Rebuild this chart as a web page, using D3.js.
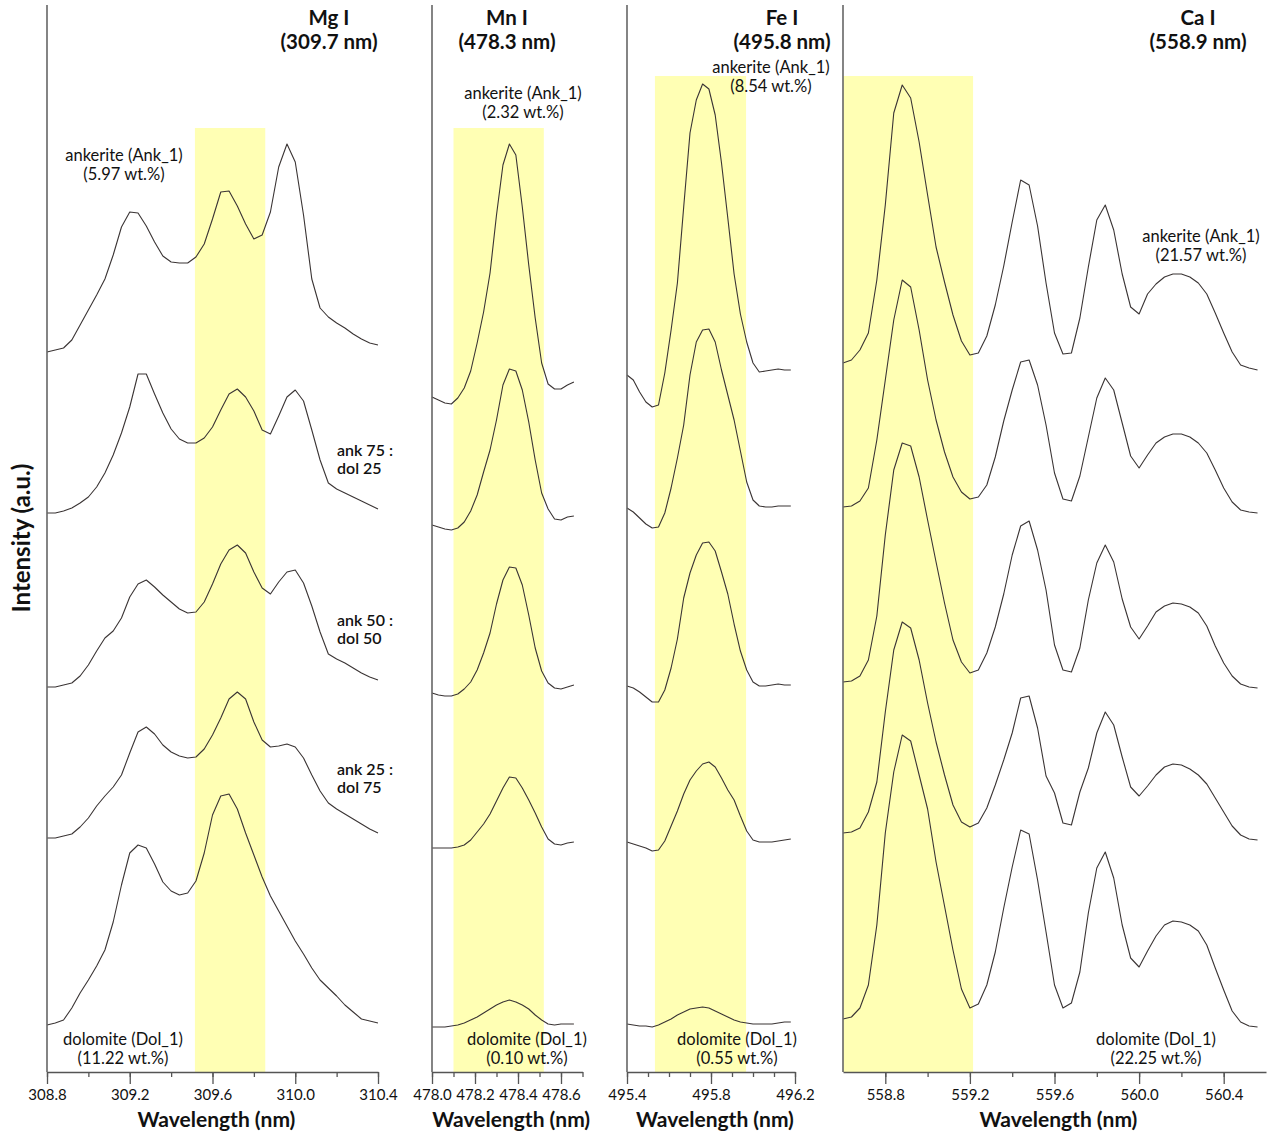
<!DOCTYPE html>
<html><head><meta charset="utf-8">
<script src="https://cdn.jsdelivr.net/npm/d3@7"></script>
<style>body{margin:0;background:#fff}svg{display:block}</style>
</head><body>
<svg id="chart" width="1270" height="1136"></svg>
<script>
// ---------------- DATA ----------------
const panelTitles = ["Mg I", "Mn I", "Fe I", "Ca I"];
const panelLines = ["(309.7 nm)", "(478.3 nm)", "(495.8 nm)", "(558.9 nm)"];
const seriesNames = ["ankerite (Ank_1)", "ank 75 : dol 25", "ank 50 : dol 50", "ank 25 : dol 75", "dolomite (Dol_1)"];
const ankContent = ["(5.97 wt.%)", "(2.32 wt.%)", "(8.54 wt.%)", "(21.57 wt.%)"];
const dolContent = ["(11.22 wt.%)", "(0.10 wt.%)", "(0.55 wt.%)", "(22.25 wt.%)"];
const mixLabels = [["ank 75 :", "dol 25"], ["ank 50 :", "dol 50"], ["ank 25 :", "dol 75"]];

// x domains (nm)
const xDomains = [[308.8, 310.4], [478.0, 478.7], [495.4, 496.2], [558.6, 560.6]];
const tickValuesAll = [
  [308.8, 309.0, 309.2, 309.4, 309.6, 309.8, 310.0, 310.2, 310.4],
  [478.0, 478.1, 478.2, 478.3, 478.4, 478.5, 478.6, 478.7],
  [495.4, 495.5, 495.6, 495.7, 495.8, 495.9, 496.0, 496.1, 496.2],
  [558.8, 559.0, 559.2, 559.4, 559.6, 559.8, 560.0, 560.2, 560.4]
];
const tickLabels = [
  ["308.8", "309.2", "309.6", "310.0", "310.4"],
  ["478.0", "478.2", "478.4", "478.6"],
  ["495.4", "495.8", "496.2"],
  ["558.8", "559.2", "559.6", "560.0", "560.4"]
];
// highlighted emission-line windows (nm) and band top (a.u.)
const bandStart = [309.515, 478.10, 495.533, 558.60];
const bandEnd = [309.855, 478.52, 495.967, 559.215];
const bandTop = [944, 944, 996, 996];

// Intensity domain (a.u., stacked spectra)
const intensityDomain = [0, 1067];

// ---- Mg I ----
const mgWavelength = [308.80,308.84,308.88,308.92,308.96,309.00,309.04,309.08,309.12,309.16,309.20,309.24,309.28,309.32,309.36,309.40,309.44,309.48,309.52,309.56,309.60,309.64,309.68,309.72,309.76,309.80,309.84,309.88,309.92,309.96,310.00,310.04,310.08,310.12,310.16,310.20,310.24,310.28,310.32,310.36,310.40];
const mgAnk = [720,722,724,732,747,762,777,793,817,845,860,859,846,830,816,810,809,809,815,828,853,880,881,866,848,833,837,860,905,928,910,857,793,764,755,749,744,738,733,729,727];
const mgMix75 = [559,559,561,564,569,575,585,599,617,639,665,698,698,678,659,643,633,629,629,634,645,662,678,683,675,661,642,638,656,675,682,671,642,612,589,583,579,575,571,567,563];
const mgMix50 = [385,385,387,389,396,407,421,434,441,454,475,488,492,485,477,470,463,459,460,470,488,508,522,527,519,500,484,478,490,500,502,489,466,440,418,413,409,404,399,395,392];
const mgMix25 = [234,234,236,238,245,254,266,276,285,297,319,340,345,338,327,320,316,314,315,323,337,354,373,380,373,350,332,325,326,328,325,314,297,281,269,263,258,253,248,243,239];
const mgDol = [47,49,52,64,79,92,106,122,150,187,219,227,224,208,190,181,177,179,191,219,257,276,278,263,239,217,195,176,161,146,131,118,104,92,84,76,67,60,53,51,49];

// ---- Mn I ----
const mnWavelength = [478.00,478.03,478.06,478.09,478.12,478.15,478.18,478.21,478.24,478.27,478.30,478.33,478.36,478.39,478.42,478.45,478.48,478.51,478.54,478.57,478.60,478.63,478.66];
const mnAnk = [675,672,669,668,674,684,701,729,760,799,857,907,928,917,865,807,754,709,688,683,683,687,690];
const mnMix75 = [547,545,543,542,544,550,561,577,600,622,652,687,703,701,682,650,612,579,563,553,552,555,556];
const mnMix50 = [379,377,376,376,378,383,390,402,419,439,468,492,505,504,487,457,424,401,389,384,383,385,387];
const mnMix25 = [224,224,224,224,225,227,232,240,248,258,271,284,295,294,284,272,259,245,233,228,227,229,230];
const mnDol = [45,45,45,46,47,49,52,55,59,63,67,70,72,70,67,63,57,52,48,47,48,48,48];

// ---- Fe I ----
const feWavelength = [495.40,495.43,495.46,495.49,495.52,495.55,495.58,495.61,495.64,495.67,495.70,495.73,495.76,495.79,495.82,495.85,495.88,495.91,495.94,495.97,496.00,496.03,496.06,496.09,496.12,496.15,496.18];
const feAnk = [697,692,680,670,665,667,699,742,789,865,939,972,988,983,957,909,854,798,758,730,709,700,701,702,703,702,702];
const feMix75 = [564,560,554,548,544,545,559,584,614,647,697,730,742,743,730,702,677,652,621,590,572,566,565,565,566,566,566];
const feMix50 = [386,384,380,375,370,370,382,404,433,474,499,517,529,530,521,500,478,448,421,402,390,386,386,387,388,387,387];
const feMix25 = [230,228,226,224,221,222,231,246,261,278,292,301,308,310,305,294,282,272,256,241,232,230,230,230,231,232,233];
const feDol = [48,47,46,46,45,47,50,53,57,60,63,64,65,64,61,58,55,52,50,49,48,48,48,48,49,50,50];

// ---- Ca I ----
const caWavelength = [558.60,558.64,558.68,558.72,558.76,558.80,558.84,558.88,558.92,558.96,559.00,559.04,559.08,559.12,559.16,559.20,559.24,559.28,559.32,559.36,559.40,559.44,559.48,559.52,559.56,559.60,559.64,559.68,559.72,559.76,559.80,559.84,559.88,559.92,559.96,560.00,560.04,560.08,560.12,560.16,560.20,560.24,560.28,560.32,560.36,560.40,560.44,560.48,560.52,560.56];
const caAnk = [709,712,722,739,792,867,959,987,974,930,877,825,790,757,731,717,719,736,767,806,850,892,887,846,789,739,718,719,754,805,852,867,842,798,765,758,778,788,795,798,798,795,789,778,759,739,720,707,704,702];
const caMix75 = [565,566,571,584,632,692,752,792,785,742,692,652,620,595,580,573,575,587,615,651,682,710,712,687,647,599,573,571,596,635,674,694,682,649,616,604,617,629,635,638,638,635,629,619,602,584,570,562,560,559];
const caMix50 = [390,391,396,412,456,537,602,629,626,595,552,510,469,432,410,399,402,419,445,478,517,546,551,522,482,427,402,400,424,472,509,527,510,473,445,433,446,460,466,469,468,465,459,446,426,409,396,388,385,384];
const caMix25 = [239,240,244,260,290,360,422,450,444,412,369,330,297,267,250,245,249,264,287,312,339,374,376,344,296,279,249,247,280,304,339,360,347,315,285,276,286,297,305,308,307,303,297,288,274,260,246,237,233,232];
const caDol = [53,55,64,87,147,239,300,337,331,297,263,210,166,122,83,64,68,87,120,164,205,242,238,192,140,87,64,69,100,159,204,220,194,147,114,105,121,136,147,151,150,147,141,127,104,82,61,50,46,45];

const wavelengths = [mgWavelength, mnWavelength, feWavelength, caWavelength];
const spectra = [
  [mgAnk, mgMix75, mgMix50, mgMix25, mgDol],
  [mnAnk, mnMix75, mnMix50, mnMix25, mnDol],
  [feAnk, feMix75, feMix50, feMix25, feDol],
  [caAnk, caMix75, caMix50, caMix25, caDol]
];

// ---------------- LAYOUT ----------------
const FONT = "Lato, 'Open Sans', sans-serif";
const axisY = 1072, topY = 5;
const panelRanges = [[47, 378], [432, 582.5], [627, 795], [843, 1266]];
const titleX = [329, 507, 782, 1198];
const ankLabelPos = [[124, 161], [523, 99], [771, 73], [1201, 242]];
const dolLabelPos = [[123, 1045], [527, 1045], [737, 1045], [1156, 1045]];
const mixLabelPos = [[337, 456], [337, 626], [337, 775]];

const svg = d3.select("#chart");
const y = d3.scaleLinear().domain(intensityDomain).range([axisY, topY]);

panelTitles.forEach((title, p) => {
  const x = d3.scaleLinear().domain(xDomains[p]).range(panelRanges[p]);
  const g = svg.append("g");

  // highlight band
  g.append("rect")
    .attr("x", x(bandStart[p]))
    .attr("width", x(bandEnd[p]) - x(bandStart[p]))
    .attr("y", y(bandTop[p]))
    .attr("height", y(0) - y(bandTop[p]))
    .attr("fill", "#ffffb4");

  // spectra
  const line = d3.line()
    .x((d, i) => x(wavelengths[p][i]))
    .y(d => y(d))
    .curve(d3.curveLinear);
  spectra[p].forEach((s, k) => {
    g.append("path")
      .datum(s)
      .attr("d", line)
      .attr("fill", "none")
      .attr("stroke", "#3a3434")
      .attr("stroke-width", 1.1)
      .attr("stroke-linejoin", "round");
  });

  // vertical (intensity) axis line
  g.append("line")
    .attr("x1", panelRanges[p][0]).attr("x2", panelRanges[p][0])
    .attr("y1", y(intensityDomain[1])).attr("y2", y(0))
    .attr("stroke", "#666").attr("stroke-width", 1.6);

  // x axis: minor ticks
  const minorAxis = d3.axisBottom(x)
    .tickValues(tickValuesAll[p])
    .tickSize(5).tickSizeOuter(0).tickFormat("");
  const ga = g.append("g").attr("transform", `translate(0,${axisY})`).call(minorAxis);
  ga.select(".domain").attr("stroke", "#555").attr("stroke-width", 1.4);
  ga.selectAll(".tick line").attr("stroke", "#555").attr("stroke-width", 1.3);

  // major ticks with labels
  const majorAxis = d3.axisBottom(x)
    .tickValues(tickLabels[p].map(Number))
    .tickSize(12).tickSizeOuter(0).tickPadding(5)
    .tickFormat((d, i) => tickLabels[p][i]);
  const gm = g.append("g").attr("transform", `translate(0,${axisY})`).call(majorAxis);
  gm.select(".domain").remove();
  gm.selectAll(".tick line").attr("stroke", "#555").attr("stroke-width", 1.3);
  gm.selectAll(".tick text")
    .attr("fill", "#111").style("font-family", FONT).style("font-size", "15px");

  // x axis title
  g.append("text")
    .attr("x", (panelRanges[p][0] + panelRanges[p][1]) / 2 + 4)
    .attr("y", 1127)
    .attr("text-anchor", "middle")
    .style("font-family", FONT).style("font-weight", "bold").style("font-size", "21px")
    .attr("fill", "#111")
    .text("Wavelength (nm)");

  // panel title
  const t = g.append("text").attr("text-anchor", "middle")
    .style("font-family", FONT).style("font-weight", "bold").style("font-size", "20.5px")
    .attr("fill", "#111");
  t.append("tspan").attr("x", titleX[p]).attr("y", 25).text(title);
  t.append("tspan").attr("x", titleX[p]).attr("y", 49).text(panelLines[p]);

  // ankerite label
  const a = g.append("text").attr("text-anchor", "middle")
    .style("font-family", FONT).style("font-size", "16.5px").attr("fill", "#111");
  a.append("tspan").attr("x", ankLabelPos[p][0]).attr("y", ankLabelPos[p][1]).text(seriesNames[0]);
  a.append("tspan").attr("x", ankLabelPos[p][0]).attr("y", ankLabelPos[p][1] + 19).text(ankContent[p]);

  // dolomite label
  const dl = g.append("text").attr("text-anchor", "middle")
    .style("font-family", FONT).style("font-size", "16.5px").attr("fill", "#111");
  dl.append("tspan").attr("x", dolLabelPos[p][0]).attr("y", dolLabelPos[p][1]).text(seriesNames[4]);
  dl.append("tspan").attr("x", dolLabelPos[p][0]).attr("y", dolLabelPos[p][1] + 19).text(dolContent[p]);
});

// mixture labels (Mg panel)
mixLabels.forEach((lab, i) => {
  const t = svg.append("text")
    .style("font-family", FONT).style("font-size", "16px").style("font-weight", "600")
    .attr("fill", "#111");
  t.append("tspan").attr("x", mixLabelPos[i][0]).attr("y", mixLabelPos[i][1]).text(lab[0]);
  t.append("tspan").attr("x", mixLabelPos[i][0]).attr("y", mixLabelPos[i][1] + 18).text(lab[1]);
});

// y axis title
svg.append("text")
  .attr("transform", "translate(30,538) rotate(-90)")
  .attr("text-anchor", "middle")
  .style("font-family", FONT).style("font-weight", "bold").style("font-size", "24px")
  .attr("fill", "#111")
  .text("Intensity (a.u.)");
</script>
</body></html>
